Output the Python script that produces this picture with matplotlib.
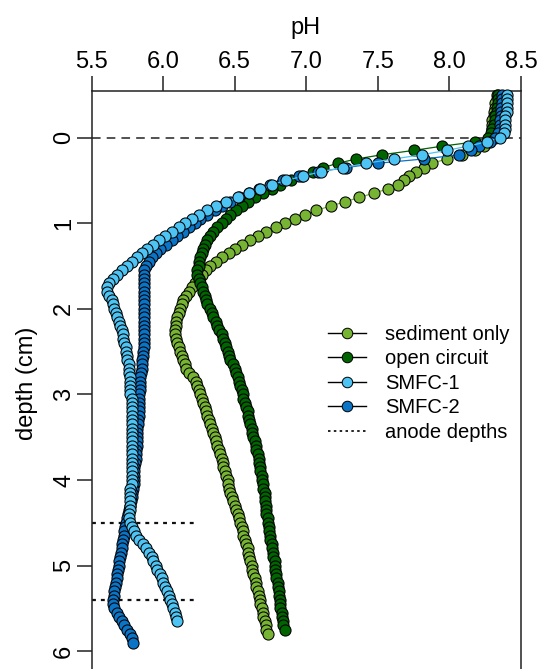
import matplotlib
matplotlib.use("Agg")
import matplotlib.pyplot as plt
from matplotlib.lines import Line2D

plt.rcParams['font.family'] = ['Liberation Sans', 'DejaVu Sans']
plt.rcParams['lines.scale_dashes'] = False

# shared depth grid (cm)
depth = [-0.50, -0.45, -0.40, -0.35, -0.30, -0.25, -0.20, -0.15, -0.10, -0.05,
         0.00, 0.05, 0.10, 0.15, 0.20, 0.25, 0.30, 0.35, 0.40, 0.45,
         0.50, 0.55, 0.60, 0.65, 0.70, 0.75, 0.80, 0.85, 0.90, 0.95,
         1.00, 1.05, 1.10, 1.15, 1.20, 1.25, 1.30, 1.35, 1.40, 1.45,
         1.50, 1.55, 1.60, 1.65, 1.70, 1.75, 1.80, 1.85, 1.90, 1.95,
         2.00, 2.05, 2.10, 2.15, 2.20, 2.25, 2.30, 2.35, 2.40, 2.45,
         2.50, 2.55, 2.60, 2.65, 2.70, 2.75, 2.80, 2.85, 2.90, 2.95,
         3.00, 3.05, 3.10, 3.15, 3.20, 3.25, 3.30, 3.35, 3.40, 3.45,
         3.50, 3.55, 3.60, 3.65, 3.70, 3.75, 3.80, 3.85, 3.90, 3.95,
         4.00, 4.05, 4.10, 4.15, 4.20, 4.25, 4.30, 4.35, 4.40, 4.45,
         4.50, 4.55, 4.60, 4.65, 4.70, 4.75, 4.80, 4.85, 4.90, 4.95,
         5.00, 5.05, 5.10, 5.15, 5.20, 5.25, 5.30, 5.35, 5.40, 5.45,
         5.50, 5.55, 5.60, 5.65, 5.70, 5.75, 5.80, 5.85, 5.90]

ph_sediment = [8.33, 8.33, 8.32, 8.32, 8.31, 8.31, 8.30, 8.30, 8.30, 8.30,
               8.29, 8.27, 8.24, 8.18, 8.09, 7.98, 7.88, 7.82, 7.77, 7.72,
               7.68, 7.64, 7.57, 7.47, 7.37, 7.27, 7.17, 7.07, 6.99, 6.92,
               6.85, 6.79, 6.72, 6.66, 6.61, 6.55, 6.50, 6.46, 6.41, 6.37,
               6.33, 6.30, 6.27, 6.25, 6.22, 6.20, 6.18, 6.16, 6.14, 6.13,
               6.12, 6.11, 6.10, 6.09, 6.09, 6.08, 6.08, 6.09, 6.10, 6.11,
               6.12, 6.13, 6.14, 6.15, 6.16, 6.18, 6.21, 6.23, 6.24, 6.25,
               6.26, 6.27, 6.28, 6.29, 6.30, 6.31, 6.32, 6.33, 6.34, 6.35,
               6.36, 6.37, 6.38, 6.39, 6.40, 6.41, 6.42, 6.42, 6.43, 6.44,
               6.45, 6.45, 6.46, 6.47, 6.48, 6.49, 6.50, 6.51, 6.52, 6.53,
               6.54, 6.55, 6.56, 6.56, 6.57, 6.58, 6.59, 6.59, 6.60, 6.61,
               6.62, 6.62, 6.63, 6.64, 6.65, 6.65, 6.66, 6.67, 6.68, 6.68,
               6.69, 6.70, 6.70, 6.71, 6.72, 6.72, 6.73]

ph_open = [8.34, 8.34, 8.34, 8.33, 8.33, 8.32, 8.32, 8.31, 8.30, 8.29,
           8.27, 8.18, 7.95, 7.75, 7.53, 7.35, 7.22, 7.12, 7.05, 6.97,
           6.89, 6.82, 6.76, 6.70, 6.64, 6.59, 6.55, 6.51, 6.47, 6.44,
           6.41, 6.38, 6.35, 6.33, 6.31, 6.29, 6.28, 6.27, 6.26, 6.25,
           6.25, 6.24, 6.24, 6.25, 6.26, 6.27, 6.28, 6.29, 6.30, 6.31,
           6.33, 6.34, 6.35, 6.37, 6.38, 6.39, 6.41, 6.42, 6.43, 6.44,
           6.45, 6.46, 6.47, 6.49, 6.50, 6.51, 6.52, 6.53, 6.54, 6.55,
           6.56, 6.56, 6.57, 6.58, 6.59, 6.59, 6.60, 6.61, 6.62, 6.62,
           6.63, 6.64, 6.65, 6.65, 6.66, 6.67, 6.67, 6.68, 6.68, 6.69,
           6.69, 6.70, 6.70, 6.71, 6.71, 6.71, 6.72, 6.72, 6.72, 6.73,
           6.73, 6.74, 6.74, 6.75, 6.75, 6.76, 6.76, 6.77, 6.77, 6.78,
           6.78, 6.78, 6.79, 6.79, 6.80, 6.80, 6.81, 6.81, 6.82, 6.82,
           6.82, 6.83, 6.83, 6.84, 6.84, 6.85]

ph_smfc1 = [8.40, 8.40, 8.40, 8.40, 8.40, 8.39, 8.39, 8.39, 8.39, 8.38,
            8.35, 8.26, 8.13, 7.98, 7.81, 7.61, 7.42, 7.26, 7.10, 6.98,
            6.86, 6.76, 6.68, 6.60, 6.52, 6.44, 6.37, 6.31, 6.25, 6.20,
            6.15, 6.11, 6.06, 6.01, 5.97, 5.93, 5.89, 5.85, 5.82, 5.78,
            5.75, 5.71, 5.68, 5.65, 5.62, 5.61, 5.61, 5.62, 5.64, 5.65,
            5.66, 5.67, 5.68, 5.69, 5.70, 5.71, 5.72, 5.72, 5.73, 5.74,
            5.74, 5.75, 5.75, 5.76, 5.76, 5.76, 5.77, 5.77, 5.77, 5.77,
            5.77, 5.78, 5.78, 5.78, 5.78, 5.78, 5.78, 5.78, 5.78, 5.78,
            5.78, 5.78, 5.78, 5.78, 5.78, 5.78, 5.78, 5.78, 5.78, 5.78,
            5.78, 5.78, 5.77, 5.77, 5.77, 5.77, 5.77, 5.77, 5.76, 5.76,
            5.77, 5.78, 5.80, 5.81, 5.83, 5.86, 5.88, 5.90, 5.92, 5.93,
            5.95, 5.96, 5.98, 5.99, 6.00, 6.01, 6.03, 6.04, 6.05, 6.06,
            6.07, 6.08, 6.09, 6.10]

ph_smfc2 = [8.37, 8.37, 8.37, 8.36, 8.36, 8.36, 8.35, 8.35, 8.35, 8.34,
            8.32, 8.28, 8.21, 8.15, 8.07, 7.82, 7.50, 7.28, 7.08, 6.95,
            6.84, 6.75, 6.67, 6.60, 6.53, 6.47, 6.41, 6.36, 6.31, 6.26,
            6.22, 6.18, 6.14, 6.10, 6.06, 6.02, 5.98, 5.95, 5.92, 5.90,
            5.88, 5.87, 5.865, 5.865, 5.865, 5.865, 5.865, 5.865, 5.865, 5.865,
            5.865, 5.865, 5.865, 5.865, 5.865, 5.865, 5.865, 5.865, 5.865, 5.865,
            5.86, 5.86, 5.855, 5.85, 5.85, 5.845, 5.84, 5.84, 5.84, 5.84,
            5.835, 5.835, 5.83, 5.83, 5.83, 5.83, 5.825, 5.825, 5.82, 5.82,
            5.82, 5.815, 5.815, 5.81, 5.81, 5.81, 5.805, 5.80, 5.80, 5.80,
            5.80, 5.795, 5.79, 5.785, 5.78, 5.775, 5.77, 5.76, 5.755, 5.75,
            5.74, 5.735, 5.73, 5.725, 5.72, 5.715, 5.71, 5.705, 5.70, 5.695,
            5.69, 5.685, 5.68, 5.675, 5.67, 5.665, 5.66, 5.655, 5.65, 5.65,
            5.66, 5.68, 5.69, 5.71, 5.73, 5.75, 5.77, 5.78, 5.79]

labels = ["sediment only", "open circuit", "SMFC-1", "SMFC-2", "anode depths"]
colors = {"sediment only": "#78B434", "open circuit": "#006400",
          "SMFC-1": "#4EC4F4", "SMFC-2": "#0A74C6"}
anode_depths = [4.5, 5.4]
x_ticks = [5.5, 6.0, 6.5, 7.0, 7.5, 8.0, 8.5]
y_ticks = [0, 1, 2, 3, 4, 5, 6]

W, H = 540, 669
fig = plt.figure(figsize=(W / 100, H / 100), dpi=100)
ax = fig.add_axes([91.5 / W, 1 - 676 / H, (521 - 91.5) / W, (676 - 90.5) / H])
ax.set_xlim(5.5, 8.5)
ax.set_ylim(6.29, -0.55)

# reference lines
ax.axhline(0, color="#222222", lw=1.1, dashes=(6.2, 4.4), zorder=1)
for d in anode_depths:
    ax.plot([5.5, 6.23], [d, d], color="#111111", lw=1.6, dashes=(2.8, 3.6), zorder=1)

series = [("sediment only", ph_sediment), ("open circuit", ph_open),
          ("SMFC-2", ph_smfc2), ("SMFC-1", ph_smfc1)]
for z, (name, ph) in enumerate(series):
    dd = depth[:len(ph)]
    ax.plot(ph, dd, color=colors[name], lw=0.9, zorder=2 + z * 2)
    ax.plot(ph, dd, ls="none", marker="o", ms=8.0, mfc=colors[name], mec="black",
            mew=0.75, zorder=3 + z * 2, clip_on=False)

for s in ["left", "top", "right"]:
    ax.spines[s].set_linewidth(1.1)
    ax.spines[s].set_color("#222222")
ax.spines["bottom"].set_visible(False)

ax.set_xticks(x_ticks)
ax.set_xticklabels([f"{v:.1f}" for v in x_ticks])
ax.set_yticks(y_ticks)
ax.set_yticklabels([str(v) for v in y_ticks])
ax.tick_params(axis="x", top=True, bottom=False, labeltop=True, labelbottom=False,
               length=10.8, width=1.1, pad=1.5, labelsize=17, color="#222222")
ax.tick_params(axis="y", left=True, length=10.8, width=1.1, pad=1, labelsize=17,
               color="#222222")
for lbl in ax.get_yticklabels():
    lbl.set_rotation(90)
    lbl.set_va("center")

fig.text(306 / W, 1 - 28 / H, "pH", ha="center", va="center", fontsize=17)
fig.text(27 / W, 1 - 383 / H, "depth (cm)", ha="center", va="center",
         fontsize=17, rotation=90)

handles = []
for name in labels[:4]:
    handles.append(Line2D([], [], color="black", lw=1.0, marker="o", ms=7.6,
                          mfc=colors[name], mec="black", mew=0.7))
handles.append(Line2D([], [], color="black", lw=1.2, dashes=(1.8, 2.4)))
fig.legend(handles, labels, loc="upper left", bbox_to_anchor=(328 / W, 1 - 325 / H),
           frameon=False, fontsize=14.5, handlelength=1.9, handletextpad=0.95,
           labelspacing=0.27, borderpad=0, borderaxespad=0)

fig.savefig("out.png", dpi=100)
